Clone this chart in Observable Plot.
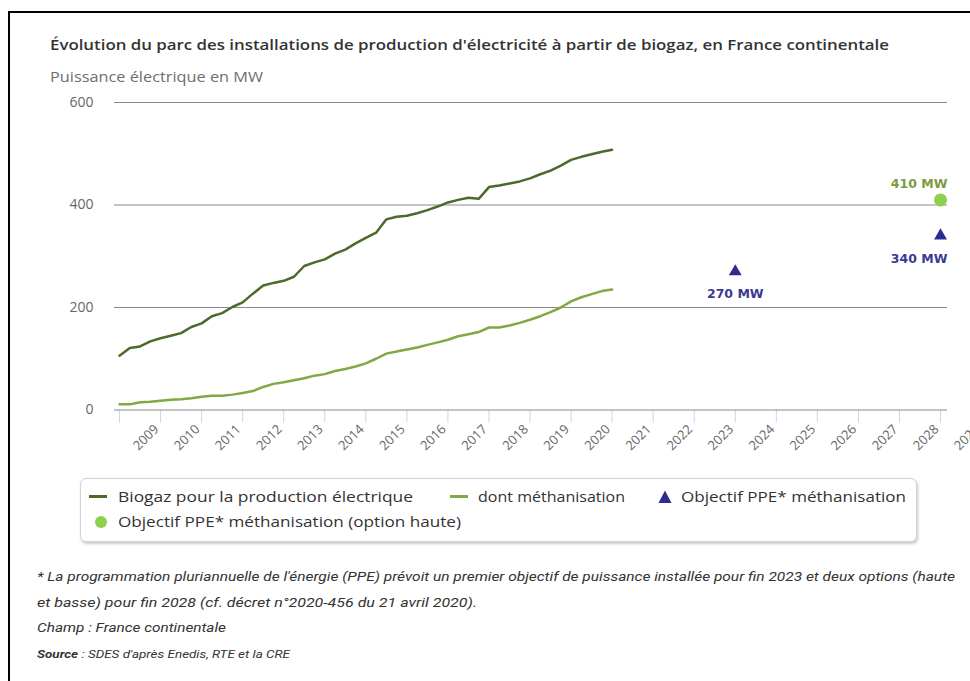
<!DOCTYPE html>
<html lang="fr">
<head>
<meta charset="utf-8">
<script src="https://cdn.jsdelivr.net/npm/d3@7"></script>
<script src="https://cdn.jsdelivr.net/npm/@observablehq/plot@0.6"></script>
<style>
  html, body { margin: 0; padding: 0; width: 970px; height: 681px; overflow: hidden; background: #fff; }
  #page { position: relative; width: 970px; height: 681px; overflow: hidden; font-family: "Open Sans", sans-serif; }
  #frame { position: absolute; left: 8px; top: 11px; width: 1000px; height: 720px; border: 2px solid #000; box-sizing: border-box; }
  .t { position: absolute; white-space: nowrap; display: inline-block; transform-origin: 0 50%; }
  #chart { position: absolute; left: 0; top: 0; }
  #legend { position: absolute; left: 80px; top: 478px; width: 837px; height: 64px; box-sizing: border-box;
            border: 1px solid #d4d4d4; border-radius: 6px; box-shadow: 1px 2px 3px rgba(0,0,0,0.22); background: #fff; }
  .sym { position: absolute; }
</style>
</head>
<body>
<div id="page">
  <div id="frame"></div>
  <div id="chart"></div>
  <div id="legend"></div>
</div>
<script>
// ---- Données ----
const debut = 2008;            // premier trimestre représenté
const pasTrimestre = 0.25;     // un point par trimestre
const biogazProduction = [106,121,124,134,140,145,150,162,169,183,189,201,210,227,243,248,252,260,281,288,294,305,313,325,336,346,372,377,379,384,390,397,405,410,414,412,435,438,442,446,452,460,467,477,488,494,499,504,508];
const dontMethanisation = [11,11,15,16,18,20,21,23,26,28,28,30,33,37,45,51,54,58,62,67,70,76,80,85,91,100,110,114,118,122,127,132,137,144,148,152,161,161,165,170,176,183,191,200,212,220,226,232,235];
const objectifAnnees = [2023, 2028];
const objectifValeurs = [270, 340];
const optionHauteAnnees = [2028];
const optionHauteValeurs = [410];
const anneesTicks = [2008,2009,2010,2011,2012,2013,2014,2015,2016,2017,2018,2019,2020,2021,2022,2023,2024,2025,2026,2027,2028];
const anneesLabels = [2009,2010,2011,2012,2013,2014,2015,2016,2017,2018,2019,2020,2021,2022,2023,2024,2025,2026,2027,2028,2029];
const yTicks = [0, 200, 400, 600];

const titre = "Évolution du parc des installations de production d'électricité à partir de biogaz, en France continentale";
const sousTitre = "Puissance électrique en MW";
const legendeItems = ["Biogaz pour la production électrique", "dont méthanisation", "Objectif PPE* méthanisation", "Objectif PPE* méthanisation (option haute)"];
const notes = [
  "* La programmation pluriannuelle de l'énergie (PPE) prévoit un premier objectif de puissance installée pour fin 2023 et deux options (haute",
  "et basse) pour fin 2028 (cf. décret n°2020-456 du 21 avril 2020).",
  "Champ : France continentale"
];
const sourceLabel = "Source";
const sourceTexte = " : SDES d'après Enedis, RTE et la CRE";

const cDark = "#4c6a2c", cLight = "#80a843", cNavy = "#2c2c8e", cCircle = "#8ed14e";

const serie1 = biogazProduction.map((v, i) => ({x: debut + i * pasTrimestre, y: v}));
const serie2 = dontMethanisation.map((v, i) => ({x: debut + i * pasTrimestre, y: v}));
const objectifs = objectifAnnees.map((a, i) => ({x: a, y: objectifValeurs[i]}));
const optionHaute = optionHauteAnnees.map((a, i) => ({x: a, y: optionHauteValeurs[i]}));

const chart = Plot.plot({
  width: 970,
  height: 470,
  marginLeft: 114,
  marginRight: 23,
  marginTop: 102,
  marginBottom: 60.5,
  style: {background: "transparent", fontFamily: "Open Sans, sans-serif", overflow: "hidden"},
  x: {domain: [2007.878, 2028.17]},
  y: {domain: [0, 600]},
  marks: [
    Plot.ruleY([200, 400, 600], {stroke: "#8a8a8a", strokeWidth: 1}),
    Plot.axisY({ticks: yTicks, tickSize: 0, tickPadding: 21, fontSize: 14, color: "#666", label: null}),
    Plot.axisX({ticks: anneesTicks, tickSize: 13, stroke: "#ccd6eb", strokeWidth: 1, tickFormat: () => "", label: null}),
    Plot.ruleY([0], {stroke: "#888", strokeWidth: 1}),
    Plot.text(anneesLabels, {x: d => d, y: 0, text: d => String(d), rotate: -45, textAnchor: "end", lineAnchor: "middle", dx: -4, dy: 17, fontSize: 13, fill: "#666"}),
    Plot.line(serie1, {x: "x", y: "y", stroke: cDark, strokeWidth: 2.5}),
    Plot.line(serie2, {x: "x", y: "y", stroke: cLight, strokeWidth: 2.5}),
    Plot.dot(objectifs, {x: "x", y: "y", symbol: "triangle", r: 4.8, fill: cNavy, stroke: "none"}),
    Plot.dot(optionHaute, {x: "x", y: "y", r: 6.5, fill: cCircle, stroke: "none"}),
    Plot.text(objectifs.slice(0, 1), {x: "x", y: "y", text: d => `${d.y} MW`, dy: 22, fontSize: 12.5, fontWeight: "bold", fontFamily: "DejaVu Sans", fill: "#3a3a93"}),
    Plot.text(objectifs.slice(1), {x: "x", y: "y", text: d => `${d.y} MW`, dy: 23, dx: 7, textAnchor: "end", fontSize: 12.5, fontWeight: "bold", fontFamily: "DejaVu Sans", fill: "#3a3a93"}),
    Plot.text(optionHaute, {x: "x", y: "y", text: d => `${d.y} MW`, dy: -16, dx: 7, textAnchor: "end", fontSize: 12.5, fontWeight: "bold", fontFamily: "DejaVu Sans", fill: "#7a9b3f"})
  ]
});
document.getElementById("chart").appendChild(chart);

const page = document.getElementById("page");
const fits = [];
function addText(parent, txt, left, cy, lh, css, targetW) {
  const el = document.createElement("span");
  el.className = "t";
  el.textContent = txt;
  el.style.left = left + "px";
  el.style.top = (cy - lh / 2) + "px";
  el.style.lineHeight = lh + "px";
  el.style.height = lh + "px";
  Object.assign(el.style, css);
  parent.appendChild(el);
  if (targetW) fits.push([el, targetW]);
  return el;
}

addText(page, titre, 50, 44, 20, {fontSize: "15px", fontWeight: "600", color: "#333"}, 839);
addText(page, sousTitre, 50, 77, 20, {fontSize: "14px", color: "#6e6e6e"}, 213);

// Légende (coordonnées de page converties dans la boîte)
const legend = document.getElementById("legend");
const L0 = 81, T0 = 479;
function lineSym(x1, x2, cy, color) {
  const d = document.createElement("div");
  d.className = "sym";
  Object.assign(d.style, {left: (x1 - L0) + "px", top: (cy - T0 - 1.5) + "px", width: (x2 - x1) + "px", height: "3px", background: color});
  legend.appendChild(d);
}
function svgSym(cx, cy, html) {
  const d = document.createElement("div");
  d.className = "sym";
  Object.assign(d.style, {left: (cx - L0 - 8) + "px", top: (cy - T0 - 8) + "px", width: "16px", height: "16px"});
  d.innerHTML = `<svg width="16" height="16" viewBox="0 0 16 16">${html}</svg>`;
  legend.appendChild(d);
}
const r1 = 496, r2 = 521;
const legCss = {fontSize: "15px", color: "#333"};
lineSym(89, 107, r1, cDark);
addText(legend, legendeItems[0], 118 - L0, r1 - T0, 20, legCss, 295);
lineSym(450, 468, r1, cLight);
addText(legend, legendeItems[1], 478 - L0, r1 - T0, 20, legCss, 147);
svgSym(665, r1, `<path d="M8 1.5 L14.5 14 L1.5 14 Z" fill="${cNavy}"/>`);
addText(legend, legendeItems[2], 681 - L0, r1 - T0, 20, legCss, 225);
svgSym(101, r2, `<circle cx="8" cy="8" r="6" fill="${cCircle}"/>`);
addText(legend, legendeItems[3], 118 - L0, r2 - T0, 20, legCss, 343);

// Notes
const noteCss = {fontFamily: "Roboto, sans-serif", fontStyle: "italic", fontSize: "13px", color: "#333"};
addText(page, notes[0], 37, 577, 20, noteCss, 918);
addText(page, notes[1], 37, 603, 20, noteCss, 440);
addText(page, notes[2], 37, 628, 20, noteCss, 189);
const src = addText(page, "", 37, 655, 16, {fontFamily: "Roboto, sans-serif", fontStyle: "italic", fontSize: "11px", color: "#333"}, 253);
const b = document.createElement("b");
b.textContent = sourceLabel;
src.appendChild(b);
src.appendChild(document.createTextNode(sourceTexte));

function applyFits() {
  for (const [el, w] of fits) {
    el.style.transform = "none";
    const cw = el.getBoundingClientRect().width;
    if (cw > 0) el.style.transform = `scaleX(${w / cw})`;
  }
}
applyFits();
if (document.fonts && document.fonts.ready) document.fonts.ready.then(applyFits);
</script>
</body>
</html>
